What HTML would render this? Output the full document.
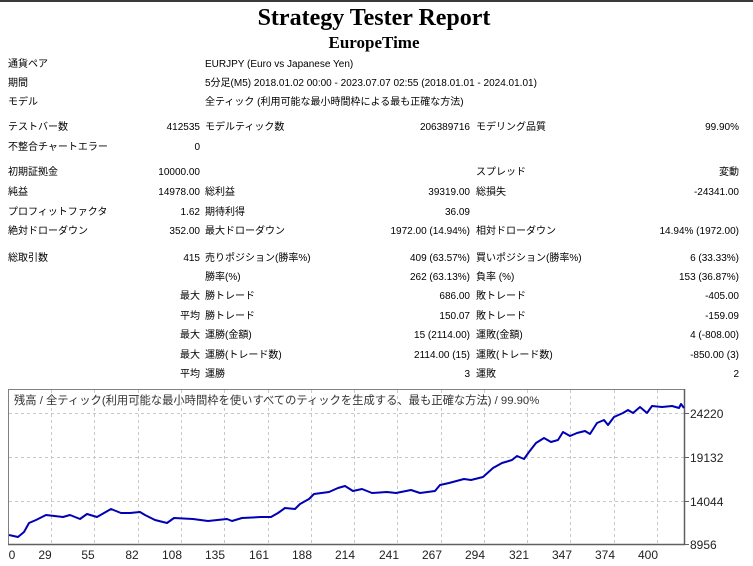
<!DOCTYPE html>
<html><head><meta charset="utf-8"><style>
html,body{margin:0;padding:0;background:#fff;}
body{width:753px;height:566px;position:relative;overflow:hidden;font-family:"Liberation Sans","Noto Sans CJK JP",sans-serif;font-size:10px;color:#000;}
.t{position:absolute;white-space:nowrap;line-height:12px;}
.r{text-align:right;}
</style></head><body>
<div style="position:absolute;left:0;top:0;width:753px;height:2px;background:#3a3a3a"></div>
<div class="t" style="left:0;width:748px;top:4px;line-height:28px;text-align:center;font-family:'Liberation Serif',serif;font-weight:bold;font-size:24px;">Strategy Tester Report</div>
<div class="t" style="left:0;width:748px;top:33px;line-height:20px;text-align:center;font-family:'Liberation Serif',serif;font-weight:bold;font-size:17px;">EuropeTime</div>

<div class="t" style="left:8px;top:59px">通貨ペア</div>
<div class="t" style="left:205px;top:59px">EURJPY (Euro vs Japanese Yen)</div>
<div class="t" style="left:8px;top:78px">期間</div>
<div class="t" style="left:205px;top:78px">5分足(M5) 2018.01.02 00:00 - 2023.07.07 02:55 (2018.01.01 - 2024.01.01)</div>
<div class="t" style="left:8px;top:97px">モデル</div>
<div class="t" style="left:205px;top:97px">全ティック (利用可能な最小時間枠による最も正確な方法)</div>

<div class="t" style="left:8px;top:122px">テストバー数</div>
<div class="t r" style="right:553px;top:122px">412535</div>
<div class="t" style="left:205px;top:122px">モデルティック数</div>
<div class="t r" style="right:283px;top:122px">206389716</div>
<div class="t" style="left:476px;top:122px">モデリング品質</div>
<div class="t r" style="right:14px;top:122px">99.90%</div>

<div class="t" style="left:8px;top:142px">不整合チャートエラー</div>
<div class="t r" style="right:553px;top:142px">0</div>

<div class="t" style="left:8px;top:167px">初期証拠金</div>
<div class="t r" style="right:553px;top:167px">10000.00</div>
<div class="t" style="left:476px;top:167px">スプレッド</div>
<div class="t r" style="right:14px;top:167px">変動</div>

<div class="t" style="left:8px;top:187px">純益</div>
<div class="t r" style="right:553px;top:187px">14978.00</div>
<div class="t" style="left:205px;top:187px">総利益</div>
<div class="t r" style="right:283px;top:187px">39319.00</div>
<div class="t" style="left:476px;top:187px">総損失</div>
<div class="t r" style="right:14px;top:187px">-24341.00</div>

<div class="t" style="left:8px;top:207px">プロフィットファクタ</div>
<div class="t r" style="right:553px;top:207px">1.62</div>
<div class="t" style="left:205px;top:207px">期待利得</div>
<div class="t r" style="right:283px;top:207px">36.09</div>

<div class="t" style="left:8px;top:226px">絶対ドローダウン</div>
<div class="t r" style="right:553px;top:226px">352.00</div>
<div class="t" style="left:205px;top:226px">最大ドローダウン</div>
<div class="t r" style="right:283px;top:226px">1972.00 (14.94%)</div>
<div class="t" style="left:476px;top:226px">相対ドローダウン</div>
<div class="t r" style="right:14px;top:226px">14.94% (1972.00)</div>

<div class="t" style="left:8px;top:253px">総取引数</div>
<div class="t r" style="right:553px;top:253px">415</div>
<div class="t" style="left:205px;top:253px">売りポジション(勝率%)</div>
<div class="t r" style="right:283px;top:253px">409 (63.57%)</div>
<div class="t" style="left:476px;top:253px">買いポジション(勝率%)</div>
<div class="t r" style="right:14px;top:253px">6 (33.33%)</div>

<div class="t" style="left:205px;top:272px">勝率(%)</div>
<div class="t r" style="right:283px;top:272px">262 (63.13%)</div>
<div class="t" style="left:476px;top:272px">負率 (%)</div>
<div class="t r" style="right:14px;top:272px">153 (36.87%)</div>

<div class="t r" style="right:553px;top:291px">最大</div>
<div class="t" style="left:205px;top:291px">勝トレード</div>
<div class="t r" style="right:283px;top:291px">686.00</div>
<div class="t" style="left:476px;top:291px">敗トレード</div>
<div class="t r" style="right:14px;top:291px">-405.00</div>

<div class="t r" style="right:553px;top:311px">平均</div>
<div class="t" style="left:205px;top:311px">勝トレード</div>
<div class="t r" style="right:283px;top:311px">150.07</div>
<div class="t" style="left:476px;top:311px">敗トレード</div>
<div class="t r" style="right:14px;top:311px">-159.09</div>

<div class="t r" style="right:553px;top:330px">最大</div>
<div class="t" style="left:205px;top:330px">運勝(金額)</div>
<div class="t r" style="right:283px;top:330px">15 (2114.00)</div>
<div class="t" style="left:476px;top:330px">運敗(金額)</div>
<div class="t r" style="right:14px;top:330px">4 (-808.00)</div>

<div class="t r" style="right:553px;top:350px">最大</div>
<div class="t" style="left:205px;top:350px">運勝(トレード数)</div>
<div class="t r" style="right:283px;top:350px">2114.00 (15)</div>
<div class="t" style="left:476px;top:350px">運敗(トレード数)</div>
<div class="t r" style="right:14px;top:350px">-850.00 (3)</div>

<div class="t r" style="right:553px;top:369px">平均</div>
<div class="t" style="left:205px;top:369px">運勝</div>
<div class="t r" style="right:283px;top:369px">3</div>
<div class="t" style="left:476px;top:369px">運敗</div>
<div class="t r" style="right:14px;top:369px">2</div>

<svg style="position:absolute;left:0;top:0" width="753" height="566">
<g stroke="#c8c8c8" stroke-dasharray="3,3" stroke-width="1">
<line x1="9" y1="413.5" x2="684" y2="413.5"/><line x1="9" y1="457.5" x2="684" y2="457.5"/><line x1="9" y1="501.5" x2="684" y2="501.5"/>
<line x1="51.5" y1="390" x2="51.5" y2="544"/><line x1="94.5" y1="390" x2="94.5" y2="544"/><line x1="138.5" y1="390" x2="138.5" y2="544"/><line x1="181.5" y1="390" x2="181.5" y2="544"/><line x1="224.5" y1="390" x2="224.5" y2="544"/><line x1="268.5" y1="390" x2="268.5" y2="544"/><line x1="311.5" y1="390" x2="311.5" y2="544"/><line x1="354.5" y1="390" x2="354.5" y2="544"/><line x1="397.5" y1="390" x2="397.5" y2="544"/><line x1="441.5" y1="390" x2="441.5" y2="544"/><line x1="484.5" y1="390" x2="484.5" y2="544"/><line x1="527.5" y1="390" x2="527.5" y2="544"/><line x1="570.5" y1="390" x2="570.5" y2="544"/><line x1="614.5" y1="390" x2="614.5" y2="544"/><line x1="657.5" y1="390" x2="657.5" y2="544"/>
</g>
<rect x="8.5" y="389.5" width="676" height="155" fill="none" stroke="#808080" stroke-width="1"/>
<line x1="684.5" y1="389" x2="684.5" y2="545" stroke="#606060" stroke-width="1.5"/>
<line x1="8" y1="544.5" x2="685" y2="544.5" stroke="#606060" stroke-width="1.5"/>
<g stroke="#606060"><line x1="684" y1="413.5" x2="689" y2="413.5"/><line x1="684" y1="457.5" x2="689" y2="457.5"/><line x1="684" y1="501.5" x2="689" y2="501.5"/><line x1="684" y1="544.5" x2="689" y2="544.5"/></g>
<polyline fill="none" stroke="#0000b4" stroke-width="2" stroke-linejoin="round" points="9,535 18,537 24,532 29,523 36,520 46,515 63,517 70,515 80,519 87,514 97,517 111,509 121,513 130,513 140,512 145,515 155,520 167,523 174,518 193,519 208,521 227,519 232,521 242,518 261,517 271,517 278,513 285,508 295,509 300,504 309,499 314,494 329,492 338,488 345,486 353,491 362,489 372,493 387,492 396,493 411,490 420,493 435,491 440,485 449,483 464,479 471,480 483,477 493,468 502,463 512,460 517,456 524,459 529,452 536,443 544,438 551,442 558,440 563,432 570,436 577,433 585,431 590,434 597,423 604,420 608,425 614,417 623,413 628,410 633,413 640,407 647,413 652,406 662,407 672,406 679,408 681,404 684,408"/>
<g font-family="Liberation Sans, sans-serif" font-size="12" fill="#222">
<text x="690" y="418">24220</text><text x="690" y="462">19132</text><text x="690" y="506">14044</text><text x="690" y="549">8956</text>
</g>
<g font-family="Liberation Sans, sans-serif" font-size="12" fill="#222" text-anchor="middle">
<text x="12" y="559">0</text><text x="45" y="559">29</text><text x="88" y="559">55</text><text x="132" y="559">82</text><text x="172" y="559">108</text><text x="215" y="559">135</text><text x="259" y="559">161</text><text x="302" y="559">188</text><text x="345" y="559">214</text><text x="389" y="559">241</text><text x="432" y="559">267</text><text x="475" y="559">294</text><text x="519" y="559">321</text><text x="562" y="559">347</text><text x="605" y="559">374</text><text x="648" y="559">400</text>
</g>
<text x="14" y="404" font-family="Liberation Sans, Noto Sans CJK JP, sans-serif" font-size="11.3" fill="#333">残高 / 全ティック(利用可能な最小時間枠を使いすべてのティックを生成する、最も正確な方法) / 99.90%</text>
</svg>
</body></html>
